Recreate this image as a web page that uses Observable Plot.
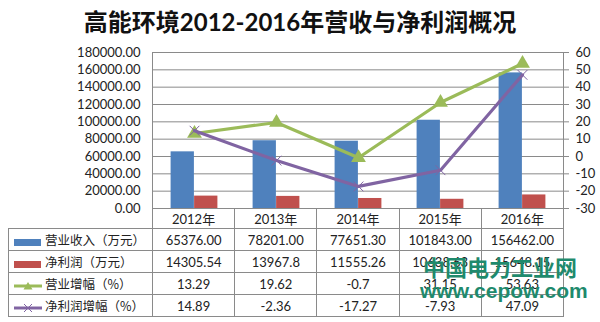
<!DOCTYPE html>
<html>
<head>
<meta charset="utf-8">
<script src="https://cdn.jsdelivr.net/npm/d3@7"></script>
<script src="https://cdn.jsdelivr.net/npm/@observablehq/plot@0.6"></script>
<style>
  html, body { margin: 0; padding: 0; background: #fff; }
  #wrap { position: relative; width: 600px; height: 322px; overflow: hidden; font-family: Lato, "Noto Sans CJK SC", sans-serif; color: #222; }
  #title { position: absolute; left: 0; top: 3px; width: 600px; text-align: center; font: bold 24px Lato, "Noto Sans CJK SC", sans-serif; color: #111; }
  #chart { position: absolute; left: 0; top: 0; }
  table { position: absolute; left: 8px; top: 208px; border-collapse: collapse; table-layout: fixed; width: 555px; }
  td { border: 1px solid #8a8a8a; padding: 0; text-align: center; font: 13px Lato, "Noto Sans CJK SC", sans-serif; color: #222; white-space: nowrap; overflow: hidden; }
  tr.head td { height: 20px; border-top: none; }
  tr.head td.corner { border: none; border-right: 1px solid #8a8a8a; }
  tr.body td { height: 21px; }
  td.lab { text-align: left; padding-left: 4px; font: 12.5px "Noto Sans CJK SC", sans-serif; }
  td.lab svg { vertical-align: middle; margin-right: 2px; }
  .wm { position: absolute; color: #1f8a6d; font-weight: bold; white-space: nowrap; }
</style>
</head>
<body>
<div id="wrap">
  <div id="chart"></div>
  <div id="title">高能环境2012-2016年营收与净利润概况</div>
</div>
<script>
// ---- data ----
const years = ["2012年", "2013年", "2014年", "2015年", "2016年"];
const revenue = [65376.00, 78201.00, 77651.30, 101843.00, 156462.00];      // 营业收入（万元）
const profit = [14305.54, 13967.8, 11555.26, 10638.63, 15648.15];          // 净利润（万元）
const revGrowth = [13.29, 19.62, -0.7, 31.15, 53.63];                      // 营业增幅（%）
const profGrowth = [14.89, -2.36, -17.27, -7.93, 47.09];                   // 净利润增幅（%）
const leftTicks = [0, 20000, 40000, 60000, 80000, 100000, 120000, 140000, 160000, 180000];
const rightTicks = [-30, -20, -10, 0, 10, 20, 30, 40, 50, 60];
const seriesNames = ["营业收入（万元）", "净利润（万元）", "营业增幅（%）", "净利润增幅（%）"];
const colors = ["#4F81BD", "#C0504D", "#9BBB59", "#8064A2"];

const rows = years.map((year, i) => ({
  year, revenue: revenue[i], profit: profit[i], revGrowth: revGrowth[i], profGrowth: profGrowth[i]
}));

// right (percent) axis mapped onto the left value domain
const rMin = -30, rMax = 60, lMax = 180000;
const toLeft = v => (v - rMin) / (rMax - rMin) * lMax;
const fromLeft = d => Math.round(d / lMax * (rMax - rMin) + rMin);

const W = 600, H = 322, mL = 152, mR = 37, mT = 52, mB = 114;
const bw = (W - mL - mR) / years.length;
const barW = 23.5;

const chart = Plot.plot({
  width: W, height: H,
  marginLeft: mL, marginRight: mR, marginTop: mT, marginBottom: mB,
  style: { fontFamily: "Lato, 'Noto Sans CJK SC', sans-serif", fontSize: "13px", color: "#222", background: "transparent" },
  x: { domain: years, padding: 0, axis: null },
  y: { domain: [0, lMax], axis: null },
  marks: [
    Plot.gridY(leftTicks, { stroke: "#8a8a8a", strokeOpacity: 1 }),
    Plot.frame({ stroke: "#8a8a8a" }),
    Plot.axisY(leftTicks, { anchor: "left", tickSize: 0, tickPadding: 12, tickFormat: d3.format(".2f"), fontSize: 13 }),
    Plot.axisY(rightTicks.map(toLeft), { anchor: "right", tickSize: 5, tickPadding: 7, tickFormat: fromLeft, stroke: "#8a8a8a", fontSize: 13, textAnchor: "start" }),
    Plot.barY(rows, { x: "year", y: "revenue", fill: colors[0], insetLeft: bw / 2 - barW, insetRight: bw / 2 }),
    Plot.barY(rows, { x: "year", y: "profit", fill: colors[1], insetLeft: bw / 2, insetRight: bw / 2 - barW }),
    Plot.line(rows, { x: "year", y: d => toLeft(d.revGrowth), stroke: colors[2], strokeWidth: 3.2 }),
    Plot.dot(rows, { x: "year", y: d => toLeft(d.revGrowth), symbol: "triangle", fill: colors[2], r: 5.5 }),
    Plot.line(rows, { x: "year", y: d => toLeft(d.profGrowth), stroke: colors[3], strokeWidth: 3.2 }),
    Plot.dot(rows, { x: "year", y: d => toLeft(d.profGrowth), symbol: "times", stroke: colors[3], strokeWidth: 1, r: 4.5 })
  ]
});
document.getElementById("chart").appendChild(chart);

// ---- data table below the chart ----
const wrap = d3.select("#wrap");
const table = wrap.append("table");
const cg = table.append("colgroup");
cg.append("col").style("width", (mL - 8) + "px");
years.forEach(() => cg.append("col").style("width", bw + "px"));

const head = table.append("tr").attr("class", "head");
head.append("td").attr("class", "corner");
years.forEach(y => head.append("td").text(y));

const tableRows = [
  { name: seriesNames[0], vals: revenue.map(v => v.toFixed(2)), kind: "bar", color: colors[0] },
  { name: seriesNames[1], vals: profit.map(v => String(v)), kind: "bar", color: colors[1] },
  { name: seriesNames[2], vals: revGrowth.map(v => String(v)), kind: "tri", color: colors[2] },
  { name: seriesNames[3], vals: profGrowth.map(v => String(v)), kind: "x", color: colors[3] }
];
tableRows.forEach(r => {
  const tr = table.append("tr").attr("class", "body");
  const lab = tr.append("td").attr("class", "lab");
  const sw = lab.append("svg").attr("width", 30).attr("height", 12);
  if (r.kind === "bar") {
    sw.append("rect").attr("x", 1).attr("y", 3).attr("width", 27).attr("height", 7).attr("fill", r.color);
  } else {
    sw.append("line").attr("x1", 1).attr("x2", 29).attr("y1", 6).attr("y2", 6).attr("stroke", r.color).attr("stroke-width", 3);
    if (r.kind === "tri") {
      sw.append("path").attr("d", "M15,2 L19.5,9.5 L10.5,9.5 Z").attr("fill", r.color);
    } else {
      sw.append("path").attr("d", "M11,2 L19,10 M19,2 L11,10").attr("stroke", r.color).attr("stroke-width", 1);
    }
  }
  lab.append("span").text(r.name);
  r.vals.forEach(v => tr.append("td").text(v));
});

// ---- watermark ----
wrap.append("div").attr("class", "wm")
  .style("left", "423px").style("top", "250px")
  .style("font", "bold 22px 'Noto Sans CJK SC', sans-serif").style("color", "#1f8a6d")
  .text("中国电力工业网");
wrap.append("div").attr("class", "wm")
  .style("left", "420px").style("top", "279px")
  .style("font", "bold 21px 'Liberation Sans', sans-serif").style("color", "#1f8a6d")
  .text("www.cepow.com");
</script>
</body>
</html>
